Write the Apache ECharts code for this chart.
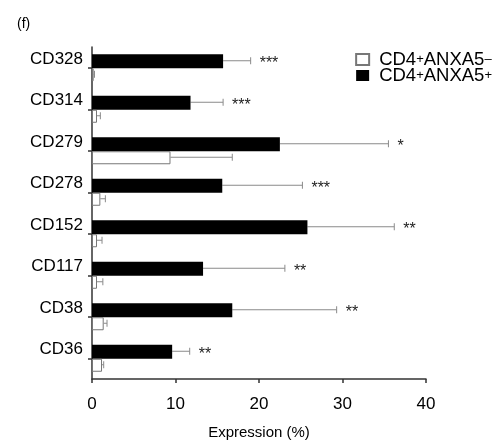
<!DOCTYPE html>
<html>
<head>
<meta charset="utf-8">
<script src="https://cdn.jsdelivr.net/npm/echarts@6/dist/echarts.min.js"></script>
<style>
  html, body { margin: 0; padding: 0; background: #fff; }
  #chart { width: 494px; height: 445px; }
</style>
</head>
<body>
<div id="chart"></div>
<script>
// markers, top to bottom
const markers = ['CD328', 'CD314', 'CD279', 'CD278', 'CD152', 'CD117', 'CD38', 'CD36'];

// CD4+ANXA5+ (black bars): mean and mean + SD
const posMean = [15.7, 11.8, 22.5, 15.6, 25.8, 13.3, 16.8, 9.6];
const posUpper = [19.0, 15.7, 35.5, 25.2, 36.2, 23.1, 29.3, 11.7];

// CD4+ANXA5- (white bars): mean and mean + SD
const negMean = [0.2, 0.6, 9.4, 1.0, 0.6, 0.6, 1.4, 1.2];
const negUpper = [0.3, 1.0, 16.8, 1.6, 1.2, 1.3, 1.8, 1.4];

// significance marks
const stars = ['***', '***', '*', '***', '**', '**', '**', '**'];

const xTicks = [0, 10, 20, 30, 40];

const font = 'Liberation Sans, Arial, Helvetica, sans-serif';
const nameNeg = 'neg';
const namePos = 'pos';

const chart = echarts.init(document.getElementById('chart'));

// error bar drawing, dy = offset of the bar from the category centre
function errorBars(means, uppers, dy, withStars) {
  return function (params, api) {
    const i = params.dataIndex;
    const p0 = api.coord([means[i], i]);
    const p1 = api.coord([uppers[i], i]);
    const cy = p0[1] + dy;
    const children = [
      { type: 'line', shape: { x1: p0[0], y1: cy, x2: p1[0], y2: cy },
        style: { stroke: '#8a8a8a', lineWidth: 1 } },
      { type: 'line', shape: { x1: p1[0], y1: cy - 3.5, x2: p1[0], y2: cy + 3.5 },
        style: { stroke: '#8a8a8a', lineWidth: 1 } }
    ];
    if (withStars) {
      children.push({
        type: 'text',
        x: p1[0] + 9, y: cy + 3,
        style: { text: stars[i], fill: '#222', font: '16px ' + font,
                 verticalAlign: 'middle', align: 'left' }
      });
    }
    return { type: 'group', children: children };
  };
}

const option = {
  animation: false,
  title: {
    text: '(f)', left: 12, top: 12,
    textStyle: { fontSize: 14, fontWeight: 'normal', color: '#000', fontFamily: font }
  },
  legend: {
    orient: 'vertical', right: 0, top: 48, padding: [2, 2, 2, 2],
    icon: 'rect', itemWidth: 13, itemHeight: 11, itemGap: -3,
    data: [nameNeg, namePos],
    formatter: function (n) {
      return n === nameNeg ? '{n|CD4}{s|+}{n|ANXA5}{s|–}' : '{n|CD4}{s|+}{n|ANXA5}{s|+}';
    },
    textStyle: {
      fontSize: 18, color: '#000', fontFamily: font, lineHeight: 14, padding: [0, 0, 0, 5],
      rich: {
        n: { fontSize: 18.5, color: '#000', fontFamily: font, lineHeight: 14 },
        s: { fontSize: 13, color: '#000', fontFamily: font, verticalAlign: 'top', lineHeight: 14 }
      }
    }
  },
  grid: { left: 92, right: 68, top: 47, bottom: 66 },
  xAxis: {
    type: 'value', min: 0, max: 40, interval: 10,
    name: 'Expression (%)', nameLocation: 'middle', nameGap: 46,
    nameTextStyle: { fontSize: 15, color: '#000', fontFamily: font },
    axisLine: { show: true, lineStyle: { color: '#333', width: 1.5 } },
    axisTick: { show: true, length: 4, lineStyle: { color: '#333', width: 1.5 } },
    axisLabel: { fontSize: 17, color: '#000', fontFamily: font, margin: 17,
                 formatter: function (v) { return xTicks.indexOf(v) >= 0 ? String(v) : ''; } },
    splitLine: { show: false }
  },
  yAxis: {
    type: 'category', data: markers, inverse: true,
    axisLine: { show: true, lineStyle: { color: '#333', width: 1.5 } },
    axisTick: { show: true, alignWithLabel: true, length: 4, lineStyle: { color: '#333', width: 1.5 } },
    axisLabel: { fontSize: 17, color: '#000', fontFamily: font, margin: 9, verticalAlign: 'bottom' }
  },
  series: [
    {
      name: namePos, type: 'bar', data: posMean, barWidth: 14, barGap: 0,
      itemStyle: { color: '#000' }
    },
    {
      name: nameNeg, type: 'bar', data: negMean, barWidth: 13, barGap: 0,
      itemStyle: { color: '#fff', borderColor: '#777', borderWidth: 1 }
    },
    {
      type: 'custom', renderItem: errorBars(posMean, posUpper, -7, true),
      data: posMean.map(function (v, i) { return [v, i]; }), z: 1, silent: true
    },
    {
      type: 'custom', renderItem: errorBars(negMean, negUpper, 6.5, false),
      data: negMean.map(function (v, i) { return [v, i]; }), z: 1, silent: true
    }
  ]
};

chart.setOption(option);
</script>
</body>
</html>
